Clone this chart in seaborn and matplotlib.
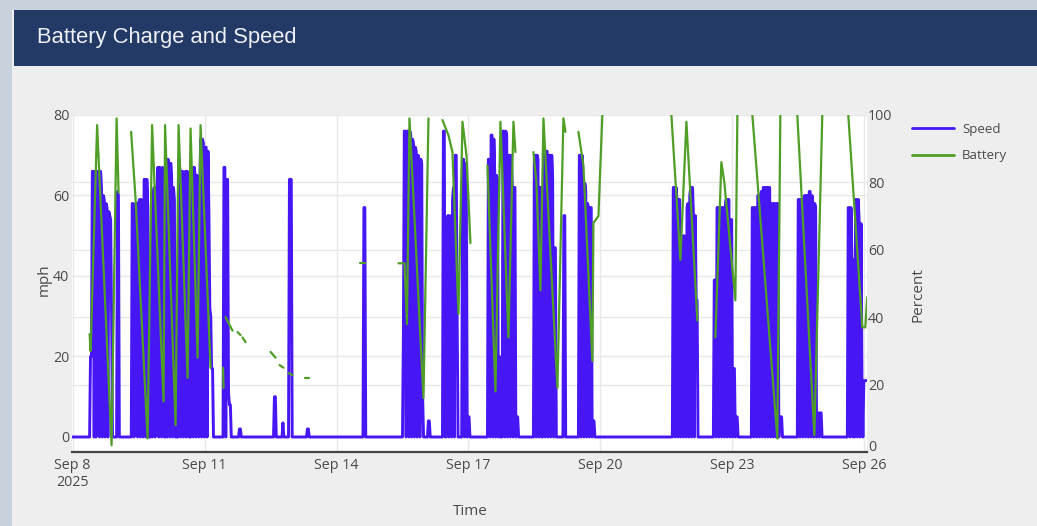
import pandas as pd
import matplotlib
matplotlib.use("Agg")
import matplotlib.pyplot as plt
import matplotlib.transforms as mtransforms
from matplotlib.patches import Rectangle
from matplotlib.lines import Line2D
import seaborn as sns

START = pd.Timestamp("2025-09-08 00:00")

# speed log: each trip sampled every 30 min, start = days after Sep 8 00:00
trip_start_day = [0.386, 1.0, 1.334, 1.773, 2.398, 2.682, 3.42, 3.773, 4.568, 4.761,
                  4.909, 5.318, 6.602, 7.5, 8.068, 8.409, 9.432, 10.477, 11.148, 11.5,
                  13.636, 14.568, 15.432, 16.477, 17.614]
trip_mph = [
    [0, 20, 20, 66, 66, 0, 66, 0, 5, 66, 66, 0, 66, 62, 0, 60, 59, 0, 58, 57, 0, 56, 55, 54, 30, 0],
    [0, 61, 60, 0],
    [0, 58, 58, 0, 57, 58, 58, 0, 58, 59, 0, 59, 57, 0, 64, 64, 0, 64, 57, 0],
    [0, 60, 0, 61, 62, 0, 62, 60, 67, 0, 67, 66, 0, 67, 20, 0, 0, 69, 0, 69, 68, 0, 68, 64, 0, 62, 59, 0],
    [0, 69, 66, 0, 66, 66, 0, 65, 66, 0, 66, 40, 0],
    [0, 67, 67, 0, 67, 65, 0, 65, 64, 0, 62, 74, 0, 74, 73, 0, 72, 72, 0, 71, 56, 32, 30, 17, 17, 0],
    [0, 67, 67, 0, 64, 64, 11, 8, 8, 0, 0],
    [0, 2, 2, 0],
    [0, 10, 10, 0],
    [0, 3.5, 0],
    [0, 64, 64, 64, 0],
    [0, 2, 2, 0],
    [0, 57, 57, 0],
    [0, 26, 76, 76, 0, 76, 76, 0, 76, 75, 0, 74, 73, 0, 72, 71, 0, 70, 69, 0, 69, 68, 10, 0],
    [0, 4, 4, 0],
    [0, 76, 76, 0, 0, 54, 55, 0, 55, 54, 0, 59, 62, 0, 70, 70, 31, 0, 0, 0, 0, 0, 69, 69, 0, 68, 63, 0, 5, 5, 0],
    [0, 69, 69, 0, 75, 75, 0, 74, 65, 0, 65, 64, 0, 20, 0, 0, 0, 76, 76, 0, 76, 75, 0, 70, 70, 0, 70, 63, 0, 62, 62, 0, 5, 5, 0],
    [0, 69, 70, 0, 70, 69, 0, 62, 62, 0, 0, 70, 70, 0, 71, 71, 0, 70, 70, 0, 70, 64, 0, 47, 47, 0],
    [0, 55, 55, 0],
    [0, 70, 70, 0, 70, 63, 0, 63, 61, 0, 58, 57, 0, 57, 57, 0, 4, 4, 0],
    [0, 62, 62, 0, 62, 59, 0, 59, 59, 0, 50, 50, 0, 50, 30, 0, 57, 58, 0, 60, 62, 0, 62, 55, 0, 55, 34, 34, 0],
    [0, 39, 39, 0, 57, 57, 0, 57, 57, 0, 57, 57, 0, 57, 59, 0, 59, 59, 0, 54, 54, 0, 17, 17, 0, 5, 5, 0],
    [0, 57, 57, 0, 57, 57, 0, 60, 60, 0, 60, 61, 0, 62, 62, 0, 62, 62, 0, 62, 62, 0, 58, 58, 0, 58, 58, 0, 58, 58, 0, 5, 5, 5, 0],
    [0, 59, 59, 0, 59, 59, 0, 59, 60, 0, 60, 60, 0, 61, 61, 0, 60, 58, 0, 58, 57, 0, 6, 6, 0, 6, 6, 0, 0],
    [0, 57, 57, 0, 57, 44, 0, 44, 0, 59, 59, 0, 59, 53, 0, 53, 14, 0, 14, 14, 14, 14],
]

# battery readings (percent), broken into segments where the log has gaps
batt_day = [
    [0.386, 0.409, 0.557, 0.886, 1.0, 1.045],
    [1.330, 1.432, 1.705, 1.807, 2.068, 2.102, 2.341, 2.409, 2.614, 2.682, 2.841, 2.909, 3.136],
    [3.420, 3.432], [3.477, 3.636], [3.75, 3.818], [3.864, 3.932], [4.5, 4.614],
    [4.705, 4.795], [4.909, 5.0], [5.295, 5.364], [6.545, 6.659],
    [7.409, 7.545, 7.602, 7.659, 7.977, 8.091],
    [8.409, 8.545, 8.636, 8.773, 8.864, 8.955, 9.045],
    [9.432, 9.614, 9.727, 9.909, 10.023, 10.068],
    [10.477, 10.545, 10.636, 10.705, 11.023, 11.159, 11.205],
    [11.5, 11.614, 11.818, 11.841, 11.955, 12.045],
    [13.614, 13.818, 13.955, 14.205],
    [14.614, 14.75, 14.818, 15.068, 15.114],
    [15.455, 16.023, 16.091],
    [16.477, 16.864, 17.045],
    [17.636, 17.955, 18.023, 18.068],
]
batt_pct = [
    [35, 30, 97, 2, 99, 77],
    [95, 75, 4, 97, 15, 97, 8, 97, 22, 96, 28, 97, 25],
    [25, 19], [40, 36], [35.6, 34.7], [34, 32.6], [29.7, 28],
    [25.8, 25], [23.4, 22.8], [22, 22], [56, 56],
    [56, 56, 38, 99, 16, 99],
    [98.5, 94, 89, 41, 98, 88, 62],
    [85, 18, 98, 34, 98, 89],
    [89, 80, 48, 99, 19, 99, 95],
    [95, 85, 27, 68, 70, 100],
    [100, 57, 98, 39],
    [34, 86, 80, 45, 100],
    [100, 4, 100],
    [100, 5, 100],
    [100, 37, 37, 46],
]

tick_dates = ["2025-09-08", "2025-09-11", "2025-09-14", "2025-09-17", "2025-09-20", "2025-09-23", "2025-09-26"]
tick_labels = ["Sep 8\n2025", "Sep 11", "Sep 14", "Sep 17", "Sep 20", "Sep 23", "Sep 26"]

SPEED_C = "#4716f5"
BATT_C = "#4f9e26"
TXT = "#4a4a4a"

# build tables
rows = [(START, 0.0)]
for d0, vals in zip(trip_start_day, trip_mph):
    t0 = START + pd.to_timedelta(d0, unit="D")
    for i, v in enumerate(vals):
        rows.append((t0 + pd.Timedelta(minutes=30 * i), v))
speed = pd.DataFrame(rows, columns=["time", "mph"])

brows = []
for k, (ds, ps) in enumerate(zip(batt_day, batt_pct)):
    for d, p in zip(ds, ps):
        brows.append((START + pd.to_timedelta(d, unit="D"), p, k))
batt = pd.DataFrame(brows, columns=["time", "pct", "seg"])

sns.set_style("white")
plt.rcParams["font.family"] = ["Open Sans", "DejaVu Sans"]

W, H = 1037, 526
fig = plt.figure(figsize=(W / 100, H / 100), dpi=100)
fig.patch.set_facecolor("#c9d1dc")
fig.add_artist(Rectangle((12 / W, 0), 1, (H - 10) / H, transform=fig.transFigure,
                         facecolor="#eeeeee", edgecolor="none", zorder=-5))
fig.add_artist(Rectangle((14 / W, (H - 66) / H), 1, 56 / H, transform=fig.transFigure,
                         facecolor="#243a66", edgecolor="none", zorder=-4))
fig.text(37 / W, 1 - 38 / H, "Battery Charge and Speed", color="#eef0f5", fontsize=15.8,
         va="center", ha="left", family=["Liberation Sans", "DejaVu Sans"])

rect = [72 / W, 74 / H, 794.5 / W, 337 / H]
xmin = START - pd.Timedelta(minutes=20)
xmax = START + pd.Timedelta(days=18.05)

# background axes carrying the percent grid (kept under the traces)
axg = fig.add_axes(rect)
axg.set_facecolor("white")
axg.set_xlim(xmin, xmax)
axg.set_ylim(0, 100)
axg.set_yticks([20, 40, 60, 80])
axg.set_xticks([])
axg.grid(axis="y", color="#e8e8e8", lw=1)
axg.tick_params(left=False, labelleft=False)
for s in axg.spines.values():
    s.set_visible(False)

ax = fig.add_axes(rect)
ax.set_facecolor("none")
sns.lineplot(data=speed, x="time", y="mph", ax=ax, color=SPEED_C, linewidth=2.1,
             estimator=None, sort=False, legend=False)
ax.set_xlim(xmin, xmax)
ax.set_ylim(-3.73, 80)
ax.set_yticks([0, 20, 40, 60, 80])
ax.set_xticks(pd.to_datetime(tick_dates))
ax.set_xticklabels(tick_labels)
ax.grid(True, color="#e8e8e8", lw=1)
ax.set_axisbelow(True)
ax.tick_params(axis="both", length=0, labelsize=10.3, labelcolor=TXT)
ax.tick_params(axis="x", pad=4.5)
ax.tick_params(axis="y", pad=2)
for s in ["left", "right", "top"]:
    ax.spines[s].set_visible(False)
ax.spines["bottom"].set_color("#444444")
ax.spines["bottom"].set_linewidth(1.6)
ax.set_xlabel("Time", fontsize=11, color=TXT)
ax.set_ylabel("mph", fontsize=11, color=TXT)
ax.xaxis.set_label_coords(0.501, -0.155)
ax.yaxis.set_label_coords(-0.025, 0.51)

ax2 = ax.twinx()
sns.lineplot(data=batt, x="time", y="pct", units="seg", estimator=None, ax=ax2,
             color=BATT_C, linewidth=1.6, sort=False, legend=False)
ax2.set_xlim(xmin, xmax)
ax2.set_ylim(0, 100)
ax2.set_yticks([0, 20, 40, 60, 80, 100])
ax2.grid(False)
ax2.tick_params(axis="y", length=0, labelsize=10.3, labelcolor=TXT, pad=1)
for s in ax2.spines.values():
    s.set_visible(False)
ax2.set_ylabel("Percent", fontsize=11, color=TXT)
ax2.yaxis.set_label_coords(1.056, 0.466)
# the right "0" sits a little above the axis line, as in the source
lbl0 = ax2.get_yticklabels()[0]
lbl0.set_transform(lbl0.get_transform() + mtransforms.ScaledTranslation(0, 5 / 72, fig.dpi_scale_trans))

handles = [Line2D([], [], color=SPEED_C, lw=2), Line2D([], [], color=BATT_C, lw=2)]
fig.legend(handles, ["Speed", "Battery"], loc="upper left",
           bbox_to_anchor=(912 / W, 1 - 123 / H), frameon=False, fontsize=9.5,
           handlelength=3.2, handletextpad=0.6, labelspacing=1.0, labelcolor=TXT,
           borderaxespad=0, borderpad=0)

fig.savefig("out.png", dpi=100)
